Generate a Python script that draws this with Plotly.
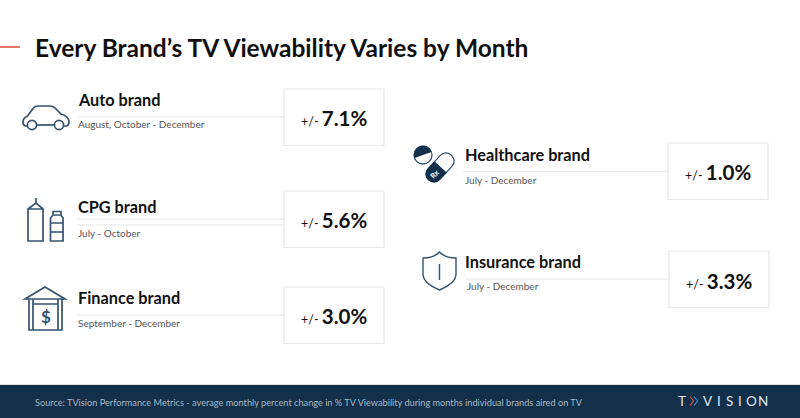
import plotly.graph_objects as go

# --- content ---
title = "Every Brand’s TV Viewability Varies by Month"
brands = ["Auto brand", "CPG brand", "Finance brand", "Healthcare brand", "Insurance brand"]
months = ["August, October - December", "July - October", "September - December",
          "July - December", "July - December"]
changes = [7.1, 5.6, 3.0, 1.0, 3.3]
source = ("Source: TVision Performance Metrics - average monthly percent change in "
          "% TV Viewability during months individual brands aired on TV")

# --- layout of the rows (pixels, y down) ---
name_x = [78, 78, 78, 465, 465]
name_y = [99, 206, 297, 154, 261]
month_x = [78, 78, 78, 465, 467]
month_y = [124, 233, 322.5, 179.5, 285.5]
rule_y = [117, 219, 315, 171.5, 279]
rule_x0 = [78, 77, 77, 463, 465]
card_x = [284, 284, 284, 668, 669]
card_y = [89, 191, 287, 143, 251]
value_x = [334, 334, 334, 718, 718.5]
value_y = [117.5, 220, 316, 172, 280.5]

NAVY = "#12304a"
ICON = "#34536f"
GREY = "#e6e7e8"
FONT = "Lato"

fig = go.Figure()
shapes = []
notes = []


def note(x, y, text, size, color="#111111", anchor="left", angle=0):
    # annotations sit about 2.5px right of x when left anchored
    shift = -2.5 if anchor == "left" else 0
    notes.append(dict(x=x, y=y, text=text, showarrow=False, xanchor=anchor, yanchor="middle",
                      align=anchor, textangle=angle, xshift=shift,
                      font=dict(family=FONT, size=size, color=color)))


def outline(path, width=1.7, fill="rgba(0,0,0,0)", color=ICON):
    shapes.append(dict(type="path", path=path, fillcolor=fill, line=dict(color=color, width=width)))


def ring(cx, cy, r, width=1.7, fill="#ffffff", color=ICON):
    shapes.append(dict(type="circle", x0=cx - r, x1=cx + r, y0=cy - r, y1=cy + r,
                       fillcolor=fill, line=dict(color=color, width=width)))


# header and footer
shapes.append(dict(type="line", x0=0, x1=20, y0=47, y1=47, line=dict(color="#e2492f", width=1.5)))
note(35, 47.5, f"<b>{title}</b>", 24.5)
shapes.append(dict(type="rect", x0=0, x1=800, y0=385, y1=418, fillcolor=NAVY, line_width=0))
shapes.append(dict(type="line", x0=0, x1=800, y0=384.5, y1=384.5, line=dict(color="#c9ced3", width=0.6)))
note(35, 402, source, 9.2, color="#a9b7c3")

# logo
note(682, 401, "T", 13.5, color="#dfe5ea", anchor="center")
outline("M690,396.5 L693.5,401 L690,405.5", width=1.2, color="#d9573f")
outline("M694,396.5 L697.5,401 L694,405.5", width=1.2, color="#3e87c4")
for letter, x in zip("VISION", [707.5, 719, 729, 740, 751, 762.5]):
    note(x, 401, letter, 13.5, color="#dfe5ea", anchor="center")

# brand rows
for i, brand in enumerate(brands):
    shapes.append(dict(type="line", x0=rule_x0[i], x1=card_x[i], y0=rule_y[i], y1=rule_y[i],
                       line=dict(color=GREY, width=1.2)))
    if i == 1:
        shapes.append(dict(type="line", x0=rule_x0[i], x1=card_x[i], y0=225, y1=225,
                           line=dict(color=GREY, width=1.2)))
    shapes.append(dict(type="rect", x0=card_x[i], x1=card_x[i] + 100, y0=card_y[i], y1=card_y[i] + 56.5,
                       fillcolor="#ffffff", line=dict(color=GREY, width=1.2)))
    note(name_x[i], name_y[i], f"<b>{brand}</b>", 16.3)
    note(month_x[i], month_y[i], months[i], 10, color="#555555")
    note(value_x[i], value_y[i],
         f'<span style="font-size:12.5px">+/- </span><b>{changes[i]:.1f}%</b>',
         20.5, anchor="center")

# car
outline("M27.5,126 H25.5 Q23,125.5 23,122 Q23,118 27,116.5 L33.5,108 Q35,106 38,106 H50 Q53,106 55,108 "
        "L61,114 Q68,116 69,121 Q69,126 66,126 H63.5")
outline("M36.5,125 H54.5")
ring(32, 125, 4.6)
ring(59, 125, 4.6)

# cartons
outline("M28,241 V209 L36,203 L43,209 V241 Z M28,209 H43 M36,203 V198")
outline("M50.5,241 V218 L53,215 H61 L63,218 V241 Z M50.5,223 H63 M50.5,232 H63 M53,215 V211.5 H61 V215")

# bank
outline("M25,299 L45,287 L65,299 Z M29,299 V330 H62 V299 M33,299 V330 M58,299 V330 M33,304 H58")
note(45.5, 316, "<b>$</b>", 17, color=ICON, anchor="center")

# pills
ring(423, 155, 9, width=1.3)
outline("M414.5,158 C410.5,146.7 427.5,140.7 431.5,152 Z", width=0, fill=NAVY, color=NAVY)
outline("M445.9,172.9 L451.9,166.4 C459.1,158.6 447.3,147.8 440.1,155.6 L434.1,162.1 Z", width=1.3)
outline("M434.1,162.1 L428.1,168.6 C420.9,176.4 432.7,187.2 439.9,179.4 L445.9,172.9 Z",
        width=1.3, fill=NAVY, color=NAVY)
note(434.5, 174, "<b>Rx</b>", 7.5, color="#ffffff", anchor="center", angle=-45)

# shield
outline("M423,258 Q434,258 439.5,252 Q445,258 456,258 V274 Q456,283 439.5,290 Q423,283 423,274 Z "
        "M439.5,264 V280", width=1.4)

fig.update_layout(
    width=800,
    height=418,
    margin=dict(l=0, r=0, t=0, b=0),
    paper_bgcolor="#ffffff",
    plot_bgcolor="#ffffff",
    showlegend=False,
    shapes=shapes,
    annotations=notes,
    xaxis=dict(range=[0, 800], visible=False, fixedrange=True),
    yaxis=dict(range=[418, 0], visible=False, fixedrange=True),
)

fig.write_html("out.html", config=dict(displayModeBar=False),
               post_script="document.body.style.margin='0';")
